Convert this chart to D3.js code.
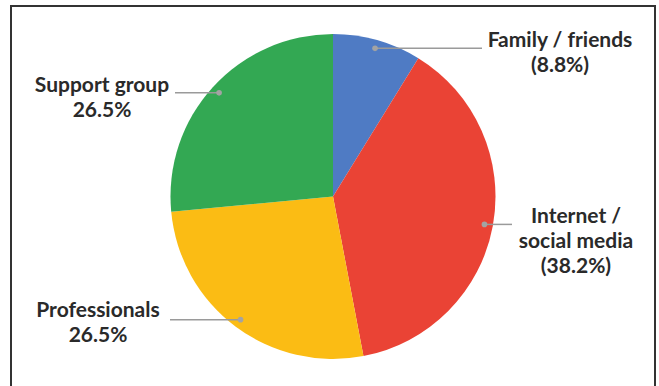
<!DOCTYPE html>
<html>
<head>
<meta charset="utf-8">
<script src="https://cdn.jsdelivr.net/npm/d3@7"></script>
<style>
  body { margin: 0; background: #fff; }
  svg { display: block; }
</style>
</head>
<body>
<div class="chart"></div>
<script>
// Data
var categories = ["Family / friends", "Internet / social media", "Professionals", "Support group"];
var shares = [8.8, 38.2, 26.5, 26.5];
var colours = ["#4f7bc4", "#ea4335", "#fbbc14", "#33a853"];

// label text lines (as shown in the picture)
var labelLines = [
    ["Family / friends", "(8.8%)"],
    ["Internet /", "social media", "(38.2%)"],
    ["Professionals", "26.5%"],
    ["Support group", "26.5%"]
];

var w = 659, h = 386;
var cx = 333, cy = 196.5, radius = 162.5;

// where the leader line ends and where the text block sits
var labelLayout = [
    {lineEnd: 482, textX: 560, textY: 47},
    {lineEnd: 512, textX: 576, textY: 223},
    {lineEnd: 170, textX: 98, textY: 317},
    {lineEnd: 175, textX: 102, textY: 92}
];

var svg = d3.select(".chart")
    .append("svg")
    .attr("width", w)
    .attr("height", h);

// frame (bottom edge runs off the picture)
svg.append("path")
    .attr("d", "M11,386 V6 H655 V386")
    .attr("fill", "none")
    .attr("stroke", "#333")
    .attr("stroke-width", 2);

var pie = d3.pie().sort(null).value(function(d) { return d; });
var arcs = pie(shares);

var arc = d3.arc().innerRadius(0).outerRadius(radius);
var dotArc = d3.arc().innerRadius(154).outerRadius(154);

var g = svg.append("g")
    .attr("transform", "translate(" + cx + "," + cy + ")");

g.selectAll("path.slice")
    .data(arcs)
    .enter()
    .append("path")
    .attr("class", "slice")
    .attr("d", arc)
    .attr("fill", function(d, i) { return colours[i]; });

// leader lines + dots
arcs.forEach(function(d, i) {
    var c = dotArc.centroid(d);
    var px = cx + c[0], py = cy + c[1];
    svg.append("line")
        .attr("x1", px).attr("y1", py)
        .attr("x2", labelLayout[i].lineEnd).attr("y2", py)
        .attr("stroke", "#9a9a9a")
        .attr("stroke-width", 1.5);
    svg.append("circle")
        .attr("cx", px).attr("cy", py)
        .attr("r", 2.8)
        .attr("fill", "#a3a3a3");

    var t = svg.append("text")
        .attr("x", labelLayout[i].textX)
        .attr("y", labelLayout[i].textY)
        .attr("text-anchor", "middle")
        .style("font-family", "Lato, 'Open Sans', sans-serif")
        .style("font-weight", "bold")
        .style("font-size", "21px")
        .style("fill", "#2a2a2a");
    labelLines[i].forEach(function(line, j) {
        t.append("tspan")
            .attr("x", labelLayout[i].textX)
            .attr("dy", j == 0 ? 0 : 25)
            .text(line);
    });
});
</script>
</body>
</html>
